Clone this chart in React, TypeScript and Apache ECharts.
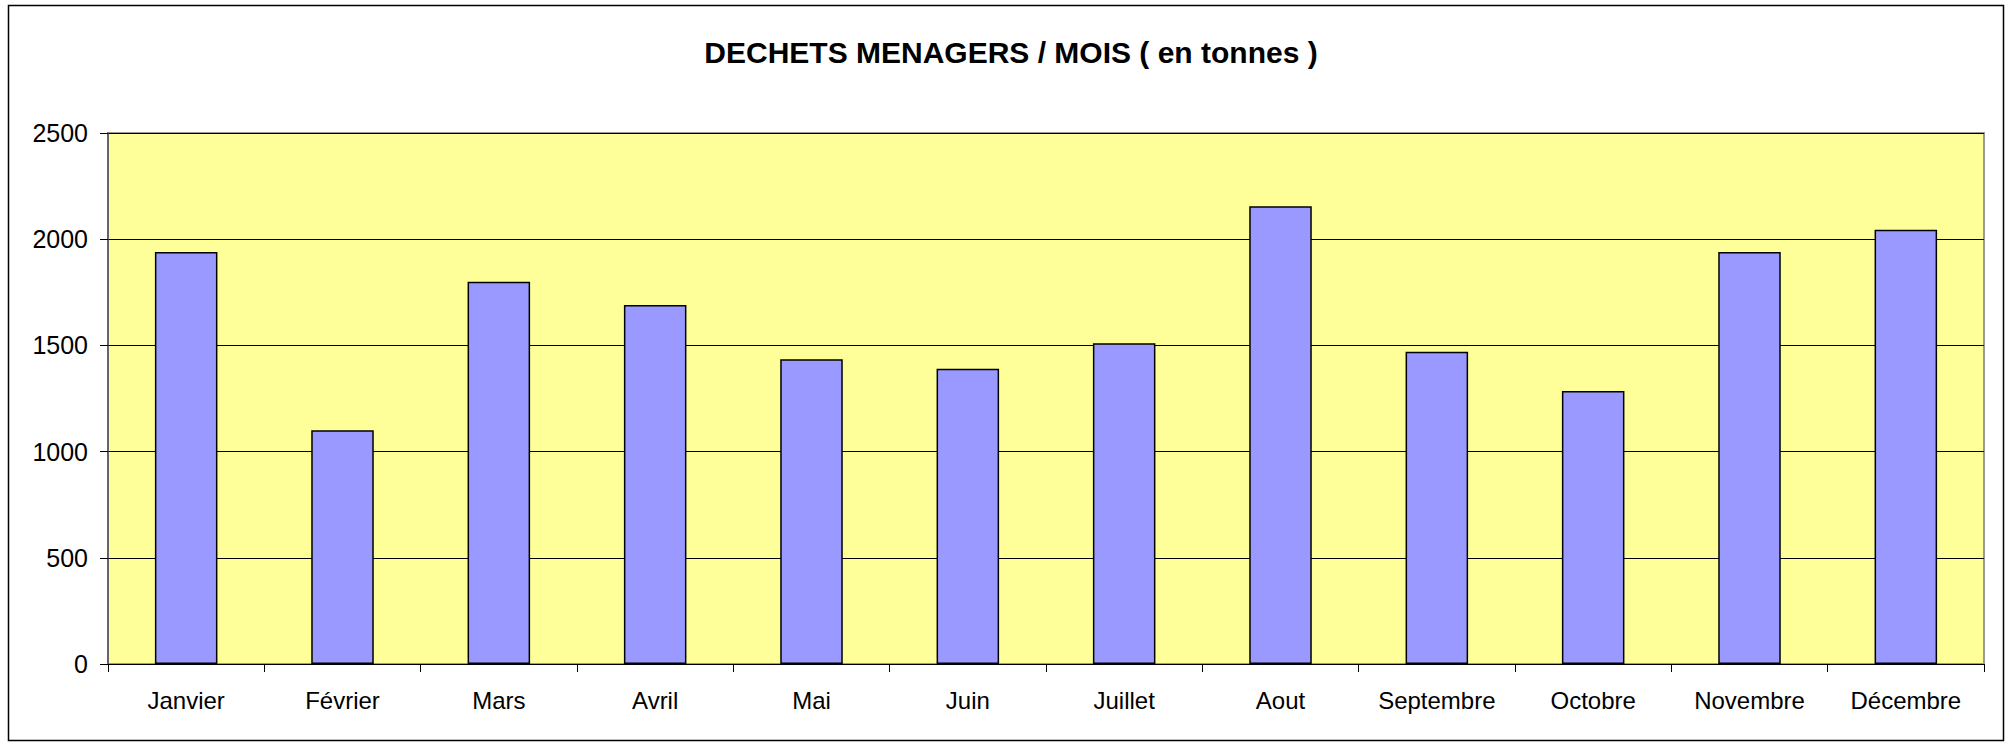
import React, { useEffect, useRef } from "react";
import * as echarts from "echarts";

const TITLE = "DECHETS MENAGERS / MOIS ( en tonnes )";
const months = [
  "Janvier",
  "Février",
  "Mars",
  "Avril",
  "Mai",
  "Juin",
  "Juillet",
  "Aout",
  "Septembre",
  "Octobre",
  "Novembre",
  "Décembre",
];
const tonnes = [1940, 1100, 1800, 1690, 1435, 1390, 1510, 2155, 1470, 1285, 1940, 2045];
const yMin = 0;
const yMax = 2500;
const yStep = 500;

export default function App() {
  const ref = useRef<HTMLDivElement>(null);
  useEffect(() => {
    if (!ref.current) return;
    const chart = echarts.init(ref.current, undefined, { renderer: "svg" });
    const font = "'Liberation Sans', Arial, sans-serif";
    chart.setOption({
      animation: false,
      backgroundColor: "#ffffff",
      title: {
        text: TITLE,
        left: 1006,
        top: 32,
        textAlign: "center",
        textStyle: {
          fontFamily: font,
          fontWeight: "bold",
          fontSize: 30,
          color: "#000000",
        },
      },
      graphic: [
        {
          type: "rect",
          shape: { x: 8.5, y: 5.5, width: 1995, height: 735 },
          style: { fill: "none", stroke: "#000000", lineWidth: 1.5 },
          silent: true,
          z: 100,
        },
      ],
      grid: {
        left: 108,
        right: 27,
        top: 133,
        bottom: 81,
        show: true,
        backgroundColor: "#FFFF99",
        borderColor: "#999999",
        borderWidth: 2,
      },
      xAxis: {
        type: "category",
        data: months,
        axisLine: { show: true, lineStyle: { color: "#000000", width: 1 } },
        axisTick: {
          show: true,
          alignWithLabel: false,
          length: 8,
          inside: false,
          lineStyle: { color: "#000000" },
        },
        axisLabel: {
          color: "#000000",
          fontFamily: font,
          fontSize: 24,
          margin: 24,
        },
        splitLine: { show: false },
      },
      yAxis: {
        type: "value",
        min: yMin,
        max: yMax,
        interval: yStep,
        axisLine: { show: true, lineStyle: { color: "#555555", width: 1.5 } },
        axisTick: { show: true, length: 8, lineStyle: { color: "#000000" } },
        axisLabel: {
          color: "#000000",
          fontFamily: font,
          fontSize: 25,
          margin: 20,
          formatter: (v: number) => String(v),
        },
        splitLine: { show: true, lineStyle: { color: "#000000", width: 1 } },
      },
      series: [
        {
          type: "bar",
          data: tonnes,
          barCategoryGap: "60%",
          itemStyle: {
            color: "#9999FF",
            borderColor: "#000000",
            borderWidth: 1.5,
          },
        },
      ],
    });
    return () => chart.dispose();
  }, []);
  return (
    <div
      ref={ref}
      style={{ position: "absolute", left: 0, top: 0, width: 2011, height: 745 }}
    />
  );
}
